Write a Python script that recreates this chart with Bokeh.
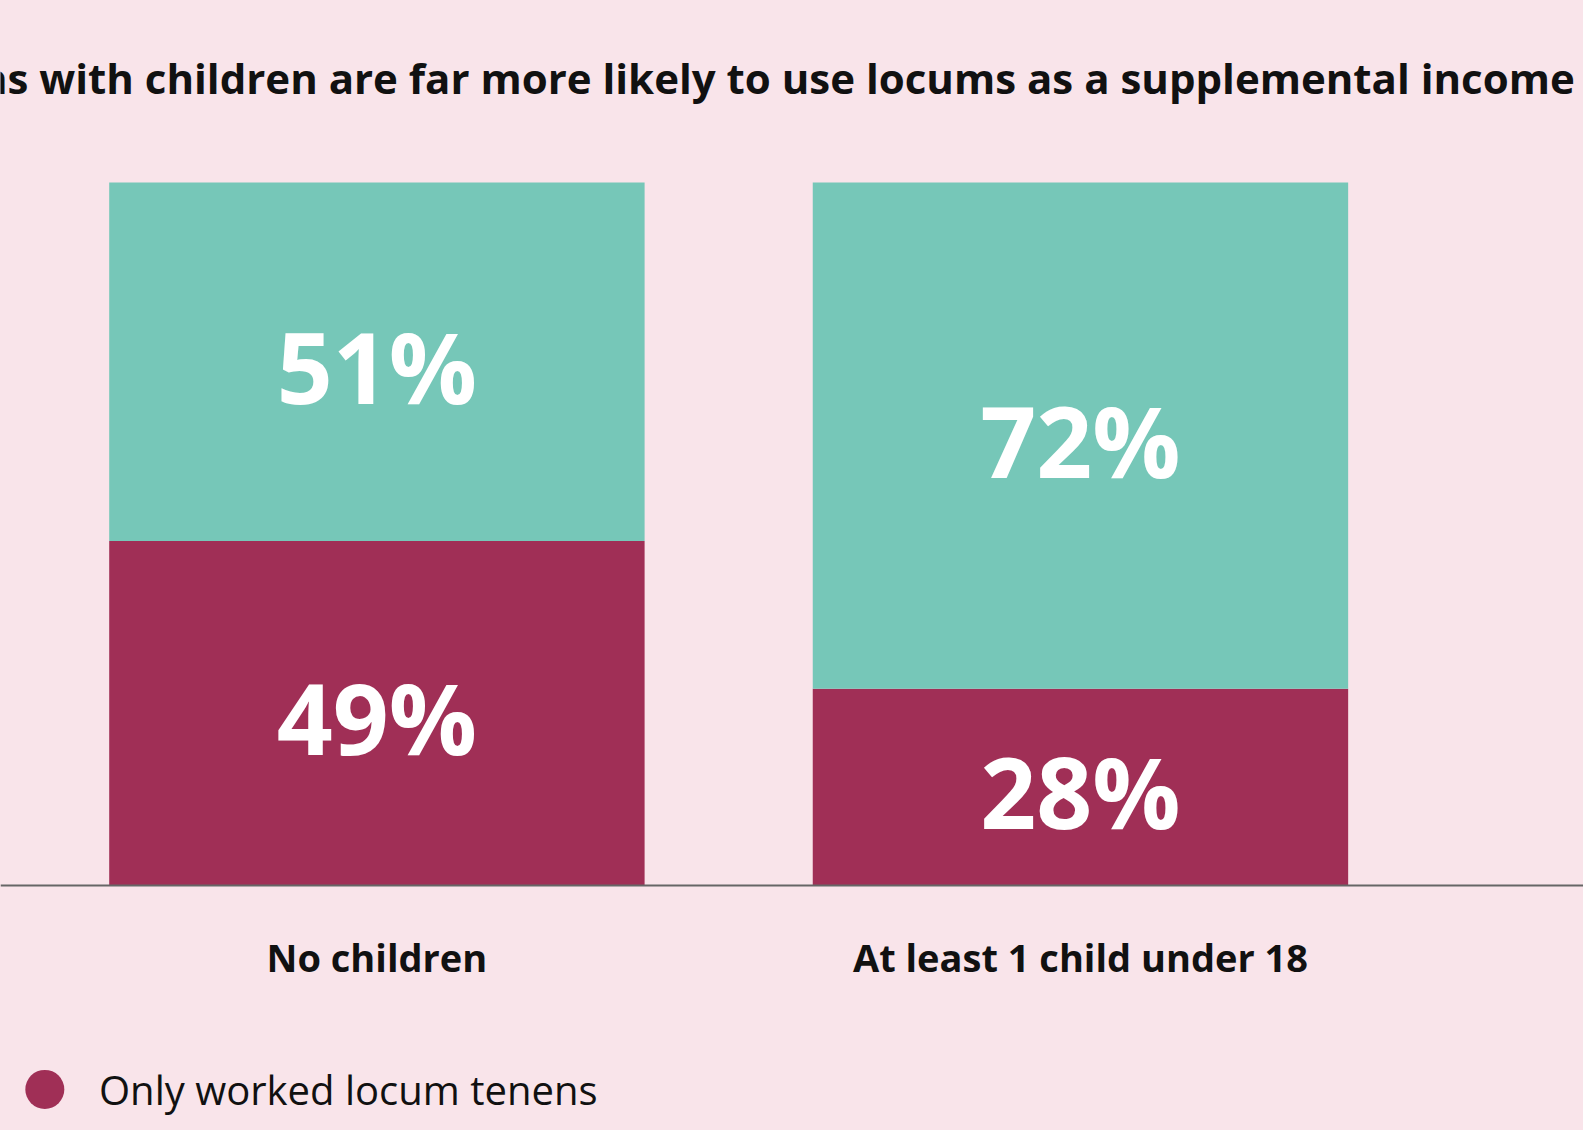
from bokeh.plotting import figure
from bokeh.models import Range1d, Span, ColumnDataSource
from bokeh.core.properties import value
from bokeh.embed import file_html
from bokeh.resources import INLINE

# ---- data ----
categories = ["No children", "At least 1 child under 18"]
only_locum = [49, 28]          # Only worked locum tenens (maroon, bottom)
supplemental = [51, 72]        # Used locums as supplemental income (teal, top)
title_text = "Physicians with children are far more likely to use locums as a supplemental income"
legend_label = "Only worked locum tenens"

BG = "#F9E4EA"
TEAL = "#76C7B8"
MAROON = "#A02F56"

W, H = 1583, 1130
xs = [0.5 + i for i in range(len(categories))]

p = figure(width=W, height=H, output_backend="svg", toolbar_location=None,
           x_range=Range1d(-0.035, 2.215), y_range=Range1d(-34.85, 125.9),
           min_border=0, outline_line_color=None)
p.axis.visible = False
p.grid.visible = False
p.background_fill_color = BG
p.border_fill_color = BG

tops1 = [a + b for a, b in zip(only_locum, supplemental)]
src = ColumnDataSource(dict(x=xs, only=only_locum, sup=supplemental, top=tops1,
                            cat=categories,
                            only_lbl=[f"{v}%" for v in only_locum],
                            sup_lbl=[f"{v}%" for v in supplemental],
                            only_mid=[v / 2 for v in only_locum],
                            sup_mid=[o + s / 2 for o, s in zip(only_locum, supplemental)],
                            cat_y=[-10.1] * len(categories)))

p.vbar(x="x", width=0.761, bottom=0, top="only", source=src, fill_color=MAROON, line_color=None)
p.vbar(x="x", width=0.761, bottom="only", top="top", source=src, fill_color=TEAL, line_color=None)

p.add_layout(Span(location=0, dimension="width", line_color="#666666", line_width=2))

lbl_kw = dict(text_color="white", text_font=value("Open Sans"), text_font_style="bold",
              text_font_size="98px", text_align="center", text_baseline="middle")
p.text(x="x", y="only_mid", text="only_lbl", source=src, y_offset=4, **lbl_kw)
p.text(x="x", y="sup_mid", text="sup_lbl", source=src, y_offset=4, **lbl_kw)

p.text(x="x", y="cat_y", text="cat", source=src, text_color="#111111",
       text_font=value("Open Sans"), text_font_style="bold", text_font_size="38px",
       text_align="center", text_baseline="middle")

# title (cropped by the canvas edges, as in the reference)
p.text(x=[1.0], y=[114.9], text=[title_text], text_color="#111111",
       text_font=value("Open Sans"), text_font_style="bold", text_font_size="42px",
       text_align="center", text_baseline="middle", x_offset=-37)

# legend
p.scatter(x=[0.028], y=[-29.0], size=39, marker="circle", fill_color=MAROON, line_color=None)
p.text(x=[0.105], y=[-29.0], text=[legend_label], text_color="#111111",
       text_font=value("Open Sans"), text_font_size="40px",
       text_align="left", text_baseline="middle")

html = file_html(p, INLINE)
html = html.replace("</head>", "<style>html,body{margin:0;padding:0;background:%s;overflow:hidden;}</style></head>" % BG, 1)
open("out.html", "w").write(html)
